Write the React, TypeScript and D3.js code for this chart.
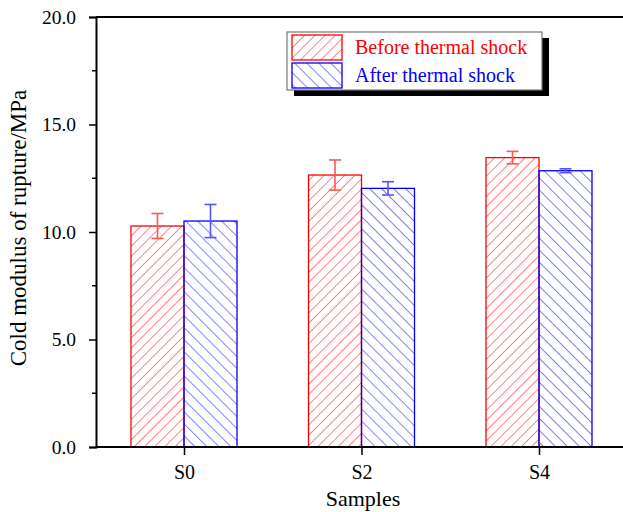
import React, { useEffect, useRef } from 'react';
import * as d3 from 'd3';

// values
const samples = ['S0', 'S2', 'S4'];
const beforeShock = [10.28, 12.65, 13.46];
const beforeErr = [0.58, 0.7, 0.29];
const afterShock = [10.51, 12.03, 12.85];
const afterErr = [0.77, 0.31, 0.09];
const yTicks = [0, 5, 10, 15, 20];
const yMinorTicks = [2.5, 7.5, 12.5, 17.5];

const W = 623;
const H = 512;

export default function App() {
  const svgRef = useRef<SVGSVGElement>(null);

  useEffect(() => {
    if (!svgRef.current) return;
    const svg = d3.select(svgRef.current);
    svg.selectAll('*').remove();

    const left = 96;
    const top = 17;
    const bottom = 447;
    const font = '"Liberation Serif", "Times New Roman", serif';

    const x = d3.scalePoint<string>().domain(samples).range([184, 539]);
    const y = d3.scaleLinear().domain([0, 20]).range([bottom, top]);
    const barW = 53;

    const defs = svg.append('defs');
    const pat = (id: string, color: string, dir: 1 | -1, step: number) => {
      const p = defs.append('pattern')
        .attr('id', id)
        .attr('patternUnits', 'userSpaceOnUse')
        .attr('width', step)
        .attr('height', step)
        .attr('patternTransform', `rotate(${dir * 45})`);
      p.append('line')
        .attr('x1', 0).attr('y1', 0).attr('x2', 0).attr('y2', step)
        .attr('stroke', color).attr('stroke-width', 1.1);
    };
    pat('hatchRed', '#ff2020', 1, 7.2);
    pat('hatchBlue', '#1a1aff', -1, 8.5);

    const series = [
      { vals: beforeShock, errs: beforeErr, color: '#ff0000', fill: 'url(#hatchRed)', errColor: '#ff5555', off: -barW },
      { vals: afterShock, errs: afterErr, color: '#0000ff', fill: 'url(#hatchBlue)', errColor: '#5555ff', off: 0 },
    ];

    series.forEach(s => {
      samples.forEach((c, i) => {
        const x0 = (x(c) as number) + s.off;
        svg.append('rect')
          .attr('x', x0)
          .attr('y', y(s.vals[i]))
          .attr('width', barW)
          .attr('height', bottom - y(s.vals[i]))
          .attr('fill', s.fill)
          .attr('stroke', s.color)
          .attr('stroke-width', 1.3);
      });
    });

    // error bars
    series.forEach(s => {
      samples.forEach((c, i) => {
        const cx = (x(c) as number) + s.off + barW / 2;
        const hi = y(s.vals[i] + s.errs[i]);
        const lo = y(s.vals[i] - s.errs[i]);
        const g = svg.append('g').attr('stroke', s.errColor).attr('stroke-width', 1.6);
        g.append('line').attr('x1', cx).attr('x2', cx).attr('y1', hi).attr('y2', lo);
        g.append('line').attr('x1', cx - 6).attr('x2', cx + 6).attr('y1', hi).attr('y2', hi);
        g.append('line').attr('x1', cx - 6).attr('x2', cx + 6).attr('y1', lo).attr('y2', lo);
      });
    });

    // axes
    const yAxis = svg.append('g').attr('transform', `translate(${left},0)`)
      .call(d3.axisLeft(y).tickValues(yTicks).tickSize(7).tickPadding(13).tickFormat(d3.format('.1f')));
    yAxis.attr('font-family', font).attr('font-size', 19);
    yAxis.select('.domain').attr('stroke-width', 2);
    yAxis.selectAll('.tick line').attr('stroke-width', 1.5);
    yAxis.selectAll('text')
      .style('font-family', font).style('font-size', '19.5px').attr('fill', '#000');
    svg.append('g').selectAll('line').data(yMinorTicks).join('line')
      .attr('x1', left - 4).attr('x2', left)
      .attr('y1', d => y(d)).attr('y2', d => y(d))
      .attr('stroke', '#000').attr('stroke-width', 1.5);

    const xAxis = svg.append('g').attr('transform', `translate(0,${bottom})`)
      .call(d3.axisBottom(x).tickSize(8).tickPadding(10).tickSizeOuter(0));
    xAxis.attr('font-family', font).attr('font-size', 20);
    xAxis.select('.domain').attr('d', `M${left},0H${W}`).attr('stroke-width', 2);
    xAxis.selectAll('.tick line').attr('stroke-width', 1.5);
    xAxis.selectAll('text')
      .style('font-family', font).style('font-size', '20px').attr('fill', '#000');

    svg.append('line')
      .attr('x1', left).attr('x2', W).attr('y1', top).attr('y2', top)
      .attr('stroke', '#000').attr('stroke-width', 2);

    svg.append('text')
      .attr('x', 363).attr('y', 506)
      .attr('text-anchor', 'middle')
      .style('font-family', font).style('font-size', '22px')
      .text('Samples');

    svg.append('text')
      .attr('transform', `translate(26,228) rotate(-90)`)
      .attr('text-anchor', 'middle')
      .style('font-family', font).style('font-size', '23px')
      .text('Cold modulus of rupture/MPa');

    // legend
    const lg = svg.append('g').attr('transform', 'translate(287,32)');
    lg.append('rect').attr('x', 7).attr('y', 6).attr('width', 255).attr('height', 58).attr('fill', '#000');
    lg.append('rect').attr('x', 0).attr('y', 0).attr('width', 255).attr('height', 58)
      .attr('fill', '#fff').attr('stroke', '#777').attr('stroke-width', 1.2);
    const items = [
      { label: 'Before thermal shock', color: '#ff0000', fill: 'url(#hatchRed)' },
      { label: 'After thermal shock', color: '#0000ff', fill: 'url(#hatchBlue)' },
    ];
    items.forEach((it, i) => {
      lg.append('rect')
        .attr('x', 5).attr('y', 3 + i * 28).attr('width', 50).attr('height', 25)
        .attr('fill', it.fill).attr('stroke', it.color).attr('stroke-width', 1.3);
      lg.append('text')
        .attr('x', 68).attr('y', 22 + i * 28)
        .style('font-family', font).style('font-size', '20px')
        .attr('fill', it.color)
        .text(it.label);
    });
  }, []);

  return (
    <svg
      ref={svgRef}
      width={W}
      height={H}
      style={{ display: 'block', position: 'fixed', left: 0, top: 0, background: '#fff' }}
    />
  );
}
